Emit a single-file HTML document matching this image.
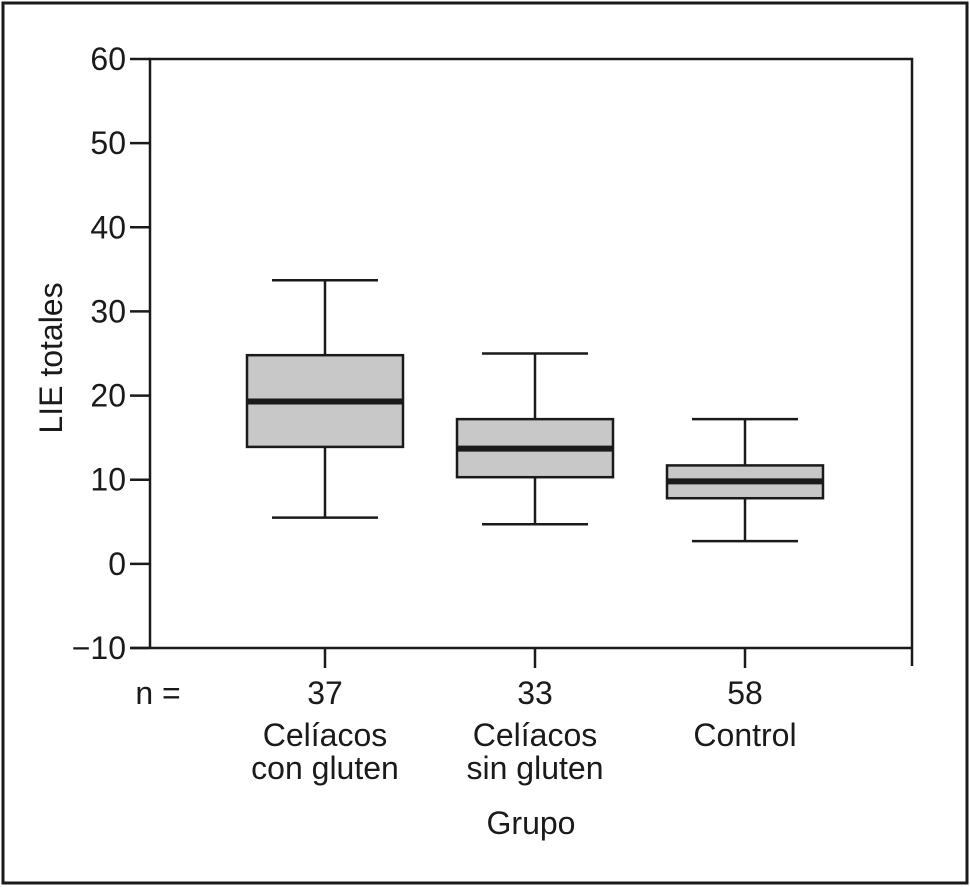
<!DOCTYPE html>
<html><head><meta charset="utf-8"><style>
html,body{margin:0;padding:0;background:#fff}
svg{display:block;font-family:"Liberation Sans",Arial,sans-serif}
</style></head><body>
<svg id="chart" width="970" height="887" viewBox="0 0 970 887">
<rect x="3" y="3" width="964" height="880" fill="none" stroke="#1a1a1a" stroke-width="3"/>
<g id="axes"></g>
<g id="boxes"></g>
<text x="62" y="358" font-size="32" text-anchor="middle" transform="rotate(-90 62 358)" fill="#1a1a1a">LIE totales</text>
<text x="158" y="704" font-size="32" text-anchor="middle" fill="#1a1a1a">n =</text>
<text x="531" y="834" font-size="32" text-anchor="middle" fill="#1a1a1a">Grupo</text>
</svg>
<script>
const categories = [["Celíacos","con gluten"],["Celíacos","sin gluten"],["Control"]];
const counts = [37, 33, 58];
const whiskerHigh = [33.7, 25.0, 17.2];
const q3 = [24.8, 17.2, 11.7];
const medians = [19.3, 13.7, 9.8];
const q1 = [13.9, 10.3, 7.8];
const whiskerLow = [5.5, 4.7, 2.7];
const yTicks = [-10, 0, 10, 20, 30, 40, 50, 60];
const yTickLabels = ["\u221210","0","10","20","30","40","50","60"];

const NS = "http://www.w3.org/2000/svg";
const x0 = 150, x1 = 912, yTop = 59, yBot = 648;
function y(v){ return yBot - (v - (-10)) / 70 * (yBot - yTop); }
const centers = [325, 534, 745];
function xc(i){ return centers[0] + i * ((centers[2]-centers[0])/2); }
function mk(tag, attrs, parent){ const e = document.createElementNS(NS, tag); for (const k in attrs) e.setAttribute(k, attrs[k]); parent.appendChild(e); return e; }
const axes = document.getElementById("axes");
const boxes = document.getElementById("boxes");
const st = {stroke:"#1a1a1a","stroke-width":2.5, fill:"none"};

let f = mk("path", Object.assign({d:`M${x0},${yBot} V${yTop} H${x1} V${yBot+18} M${x0-20},${yBot} H${x1}`}, st), axes);



yTicks.forEach((t, i) => {
  const l = mk("line", Object.assign({x1:x0-20, x2:x0, y1:y(t), y2:y(t)}, st), axes);
  
  
  const tx = mk("text", {x:x0-24, y:y(t)+11, "font-size":32, "text-anchor":"end", fill:"#1a1a1a"}, axes);
  tx.textContent = yTickLabels[i];
  
  
});

categories.forEach((c, i) => {
  const cx = xc(i);
  const tk = mk("line", Object.assign({x1:cx, x2:cx, y1:yBot, y2:yBot+20}, st), axes);
  
  
  const n = mk("text", {x:cx, y:704, "font-size":32, "text-anchor":"middle", fill:"#1a1a1a"}, axes);
  n.textContent = counts[i];
  
  
  c.forEach((line, j) => {
    const t = mk("text", {x:cx, y:746 + j*33, "font-size":32, "text-anchor":"middle", fill:"#1a1a1a"}, axes);
    t.textContent = line;
    
    
  });
  const g = mk("g", {}, boxes);
  
  
  const wp = mk("path", Object.assign({d:`M${cx-53},${y(whiskerHigh[i])} H${cx+53} M${cx},${y(whiskerHigh[i])} V${y(q3[i])} M${cx},${y(q1[i])} V${y(whiskerLow[i])} M${cx-53},${y(whiskerLow[i])} H${cx+53}`}, st), g);
  
  
  const r = mk("rect", {x:cx-78, y:y(q3[i]), width:156, height:y(q1[i])-y(q3[i]), fill:"#c8c8c8", stroke:"#1a1a1a", "stroke-width":2.5}, g);
  
  
  const m = mk("line", {x1:cx-78, x2:cx+78, y1:y(medians[i]), y2:y(medians[i]), stroke:"#1a1a1a", "stroke-width":6}, g);
  
  
});
</script>
</body></html>
